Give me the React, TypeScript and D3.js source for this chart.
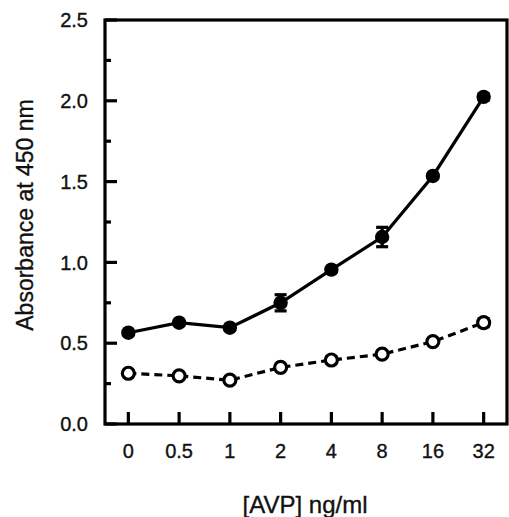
import React from "react";
import * as d3 from "d3";

const categories = ["0", "0.5", "1", "2", "4", "8", "16", "32"];
const filledValues = [0.565, 0.627, 0.596, 0.75, 0.955, 1.157, 1.535, 2.024];
const filledErrors = [0.0, 0.0, 0.0, 0.05, 0.0, 0.06, 0.0, 0.02];
const openValues = [0.314, 0.298, 0.271, 0.35, 0.396, 0.432, 0.51, 0.627];
const openErrors = [0.0, 0.0, 0.0, 0.0, 0.02, 0.0, 0.0, 0.025];
const yMajorTicks = [0, 0.5, 1.0, 1.5, 2.0, 2.5];
const yMinorTicks = [0.25, 0.75, 1.25, 1.75, 2.25];

const W = 509;
const H = 517;
const left = 105;
const right = 507;
const top = 20;
const bottom = 424;
const font = "'Liberation Sans', Arial, Helvetica, sans-serif";

export default function App() {
  const x = d3.scalePoint<string>().domain(categories).range([left, right]).padding(0.46);
  const y = d3.scaleLinear().domain([0, 2.5]).range([bottom, top]);
  const line = d3
    .line<number>()
    .x((_, i) => x(categories[i]) as number)
    .y((d) => y(d));

  const errBar = (v: number, e: number, i: number, key: string) => {
    if (e <= 0) return null;
    const cx = x(categories[i]) as number;
    return (
      <g key={key} stroke="#000" strokeWidth={3.2}>
        <line x1={cx} x2={cx} y1={y(v - e)} y2={y(v + e)} />
        <line x1={cx - 6} x2={cx + 6} y1={y(v - e)} y2={y(v - e)} />
        <line x1={cx - 6} x2={cx + 6} y1={y(v + e)} y2={y(v + e)} />
      </g>
    );
  };

  const textStyle = { stroke: "#111", strokeWidth: 0.35 } as React.CSSProperties;

  return (
    <svg
      width={W}
      height={H}
      style={{ position: "absolute", left: 0, top: 0, background: "#fff" }}
      fontFamily={font}
    >
      <rect x={0} y={0} width={W} height={H} fill="#fff" />
      {/* frame */}
      <rect x={left} y={top} width={right - left} height={bottom - top} fill="none" stroke="#000" strokeWidth={3.2} />
      {/* y ticks */}
      {yMajorTicks.map((t) => (
        <g key={"ym" + t}>
          <line x1={left} x2={left + 12} y1={y(t)} y2={y(t)} stroke="#000" strokeWidth={3.2} />
          <text x={88} y={y(t)} dy="0.36em" textAnchor="end" fontSize={20} fill="#111" style={textStyle}>
            {t.toFixed(1)}
          </text>
        </g>
      ))}
      {yMinorTicks.map((t) => (
        <line key={"yn" + t} x1={left} x2={left + 6} y1={y(t)} y2={y(t)} stroke="#000" strokeWidth={3.2} />
      ))}
      {/* x ticks */}
      {categories.map((c) => (
        <g key={"x" + c}>
          <line x1={x(c)} x2={x(c)} y1={bottom} y2={bottom - 12} stroke="#000" strokeWidth={3.2} />
          <text x={x(c)} y={458} textAnchor="middle" fontSize={20} fill="#111" style={textStyle}>
            {c}
          </text>
        </g>
      ))}
      {/* titles */}
      <text x={305} y={513} textAnchor="middle" fontSize={24} fill="#111" style={textStyle}>
        [AVP] ng/ml
      </text>
      <text
        transform={`translate(33, 215) rotate(-90)`}
        textAnchor="middle"
        fontSize={23}
        fill="#111"
        style={textStyle}
      >
        Absorbance at 450 nm
      </text>
      {/* open series */}
      <path d={line(openValues) || ""} fill="none" stroke="#000" strokeWidth={3.2} strokeDasharray="8,5" />
      {openValues.map((v, i) => errBar(v, openErrors[i], i, "oe" + i))}
      {openValues.map((v, i) => (
        <circle key={"o" + i} cx={x(categories[i])} cy={y(v)} r={6} fill="#fff" stroke="#000" strokeWidth={3.2} />
      ))}
      {/* filled series */}
      <path d={line(filledValues) || ""} fill="none" stroke="#000" strokeWidth={3.2} />
      {filledValues.map((v, i) => errBar(v, filledErrors[i], i, "fe" + i))}
      {filledValues.map((v, i) => (
        <circle key={"f" + i} cx={x(categories[i])} cy={y(v)} r={7.2} fill="#000" />
      ))}
    </svg>
  );
}
